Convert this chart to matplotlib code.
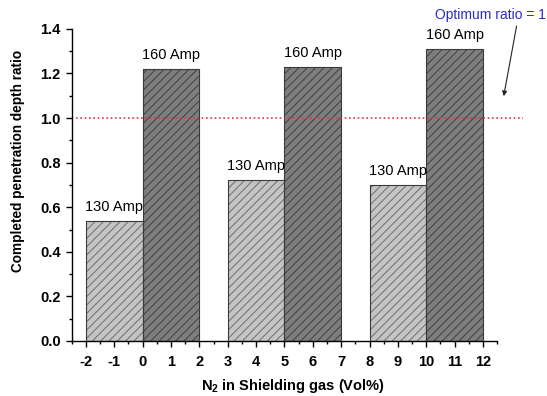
import matplotlib
matplotlib.use('Agg')
import matplotlib.pyplot as plt
from matplotlib.ticker import MultipleLocator
import numpy as np

# N2 content of each group (Vol%) and measured penetration depth ratios
n2 = [0, 5, 10]
ratio130 = [0.54, 0.72, 0.70]
ratio160 = [1.22, 1.23, 1.31]
label130 = '130 Amp'
label160 = '160 Amp'
optimum = 1.0
optimumText = 'Optimum ratio = 1'

plt.rcParams['font.family'] = ['Liberation Sans', 'DejaVu Sans']
plt.rcParams['axes.unicode_minus'] = False
plt.rcParams['hatch.linewidth'] = 0.7

fig = plt.figure(figsize=(5.47, 3.96), dpi=100)
ax = fig.add_axes([0.131, 0.139, 0.778, 0.788])

x = np.array(n2, dtype=float)
barWidth = 2.0

#Fill + hatch first, then the outline on top
ax.bar(x - 1, ratio130, width=barWidth, color='#c4c4c4', edgecolor='#6e6e6e', hatch='////', linewidth=0, zorder=2)
ax.bar(x + 1, ratio160, width=barWidth, color='#7e7e7e', edgecolor='#404040', hatch='////', linewidth=0, zorder=2)
ax.bar(x - 1, ratio130, width=barWidth, fill=False, edgecolor='#3a3a3a', linewidth=0.8, zorder=3)
ax.bar(x + 1, ratio160, width=barWidth, fill=False, edgecolor='#3a3a3a', linewidth=0.8, zorder=3)

for xi, v in zip(x - 1, ratio130):
    ax.text(xi, v + 0.045, label130, ha='center', va='baseline', fontsize=10.5, zorder=4)
for xi, v in zip(x + 1, ratio160):
    ax.text(xi, v + 0.045, label160, ha='center', va='baseline', fontsize=10.5, zorder=4)

#Optimum line, runs past the right end of the axis
ax.plot([-2.33, 13.4], [optimum, optimum], color='#d83c3c', linestyle=(0, (1, 1.6)), linewidth=1.2, clip_on=False, zorder=5)

ax.annotate('', xy=(12.71, 1.086), xytext=(13.2, 1.425),
            arrowprops=dict(arrowstyle='-|>', color='#222222', lw=0.8, mutation_scale=7),
            annotation_clip=False)
ax.text(10.3, 1.446, optimumText, color='#2a2ad0', fontsize=10, va='baseline', ha='left', clip_on=False)

ax.set_xlim(-2.5, 12.5)
ax.set_ylim(0, 1.4)

ax.spines['top'].set_visible(False)
ax.spines['right'].set_visible(False)
ax.spines['left'].set_linewidth(1.0)
ax.spines['bottom'].set_linewidth(1.0)

ax.xaxis.set_major_locator(MultipleLocator(1))
ax.xaxis.set_minor_locator(MultipleLocator(0.5))
ax.yaxis.set_major_locator(MultipleLocator(0.2))
ax.yaxis.set_minor_locator(MultipleLocator(0.1))
ax.tick_params(which='major', direction='out', length=4, width=1.0, labelsize=10.5)
ax.tick_params(which='minor', direction='out', length=2.2, width=1.0)
ax.tick_params(axis='x', which='major', pad=6)
ax.tick_params(axis='y', which='major', pad=4)
ax.yaxis.set_major_formatter(matplotlib.ticker.FormatStrFormatter('%.1f'))
for lab in ax.get_xticklabels() + ax.get_yticklabels():
    lab.set_fontweight('bold')

ax.set_xlabel(r'N$_\mathregular{2}$ in Shielding gas (Vol%)', fontsize=10.5, fontweight='bold')
ax.set_ylabel('Completed penetration depth ratio', fontsize=9.8, fontweight='bold')
ax.xaxis.set_label_coords(0.52, -0.115)
ax.yaxis.set_label_coords(-0.11, 0.577)

fig.savefig('out.png', dpi=100)
